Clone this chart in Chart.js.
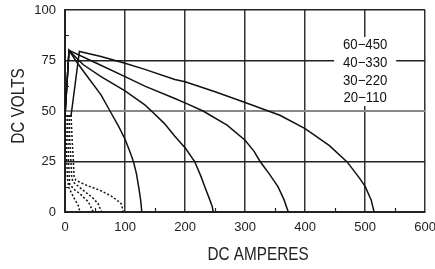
<!DOCTYPE html>
<html>
<head>
<meta charset="utf-8">
<script src="https://cdn.jsdelivr.net/npm/chart.js@4.4.0/dist/chart.umd.min.js"></script>
<style>
  html, body { margin:0; padding:0; background:#fff; overflow:hidden; }
  #wrap { position:relative; width:444px; height:269px; }
</style>
</head>
<body>
<div id="wrap"><canvas id="c"></canvas></div>
<script>
// DC volts vs DC amperes, four weld ranges (solid) + low-current curves (dotted)
const FONT = "'Liberation Sans', Arial, sans-serif";

const xTicks = [0, 100, 200, 300, 400, 500, 600];
const yTicks = [0, 25, 50, 75, 100];
const rangeLabels = ["60\u2212450", "40\u2212330", "30\u2212220", "20\u2212110"];

// solid curves
const c20x = [0, 6.7, 20, 40, 60, 75, 90, 100, 108, 114, 119, 123, 126, 128];
const c20y = [47.5, 80, 74, 66, 58, 50, 42, 36, 30, 25, 19, 12, 6, 0];

const c30x = [0, 6.7, 30, 60, 100, 133, 144, 165, 183, 201, 216, 226, 233, 240, 245, 247];
const c30y = [47.5, 80, 73, 67, 60, 53, 50, 44, 37.5, 31.4, 25, 18, 12.4, 7, 3, 0];

const c40x = [0, 6.7, 50, 100, 133, 183, 200, 230, 270, 300, 315, 325, 340, 355, 365, 372];
const c40y = [47.5, 80, 74, 67, 62.3, 56.2, 54, 50, 43, 35.5, 30, 25, 19, 12.4, 6, 0];

const c60x = [0, 10, 24, 60, 100, 133, 183, 200, 250, 300, 358, 400, 440, 470, 490, 500, 510, 515];
const c60y = [47.5, 47.5, 79.5, 77, 73.6, 70.6, 65.6, 64.5, 59.5, 54.2, 47.9, 41.3, 33, 24.8, 17, 12.7, 6, 0];

// dotted curves
const d1x = [1, 2, 3, 4, 6, 14, 22, 25];
const d1y = [48, 35, 25, 17, 12.4, 7.4, 3.3, 0];
const d2x = [4, 5, 6, 7, 8, 16, 25, 39, 47];
const d2y = [48, 35, 25, 18, 13.5, 11, 9, 5, 0];
const d3x = [7, 8, 10, 11, 13, 30, 45, 55, 61];
const d3y = [48, 35, 25, 18, 15, 10.8, 7.4, 4.2, 0];
const d4x = [10, 12, 14, 15, 18, 36, 58, 80, 94, 97];
const d4y = [48, 35, 25, 18, 15.7, 13.2, 10.8, 7.4, 4, 0];

function pts(xs, ys){ return xs.map((x,i)=>({x, y: ys[i]})); }

function solid(xs, ys){
  return { data: pts(xs, ys), borderColor:"#111", borderWidth:1.5, pointRadius:0, tension:0, fill:false };
}
function dotted(xs, ys){
  return { data: pts(xs, ys), borderColor:"#111", borderWidth:1.5, borderDash:[2,2], pointRadius:0, tension:0, fill:false };
}

// condensed-looking text: squeeze horizontally
function narrowText(ctx, text, x, y, sx){
  ctx.save();
  ctx.translate(x, y);
  ctx.scale(sx, 1);
  ctx.fillText(text, 0, 0);
  ctx.restore();
}

const extras = {
  id: "extras",
  beforeDatasetsDraw(chart){
    const {ctx, scales:{x}} = chart;
    // label box over grid
    const cx = x.getPixelForValue(500);
    ctx.save();
    ctx.fillStyle = "#fff";
    ctx.fillRect(cx - 31, 37, 62, 69);
    ctx.fillStyle = "#111";
    ctx.font = "14px " + FONT;
    ctx.textAlign = "center";
    ctx.textBaseline = "middle";
    rangeLabels.forEach((t,i)=> narrowText(ctx, t, cx, 45.5 + i*17.7, 0.94));
    ctx.restore();
  },
  afterDraw(chart){
    const {ctx, chartArea:a, scales:{x, y}} = chart;
    ctx.save();
    ctx.strokeStyle = "#222";
    ctx.lineWidth = 1.2;
    ctx.beginPath();
    for (let v = 50; v < 600; v += 100){
      const px = Math.round(x.getPixelForValue(v)) + 0.5;
      ctx.moveTo(px, a.bottom); ctx.lineTo(px, a.bottom - 4);
    }
    for (let v = 12.5; v < 100; v += 25){
      const py = Math.round(y.getPixelForValue(v)) + 0.5;
      ctx.moveTo(a.left, py); ctx.lineTo(a.left + 4, py);
    }
    ctx.stroke();
    // axis titles
    ctx.fillStyle = "#222";
    ctx.font = "18px " + FONT;
    ctx.textAlign = "center";
    ctx.textBaseline = "middle";
    narrowText(ctx, "DC AMPERES", 258, 255, 0.85);
    ctx.translate(19, 106);
    ctx.rotate(-Math.PI/2);
    narrowText(ctx, "DC VOLTS", 0, 0, 0.85);
    ctx.restore();
  }
};

new Chart(document.getElementById("c"), {
  type: "line",
  data: {
    datasets: [
      solid(c20x, c20y), solid(c30x, c30y), solid(c40x, c40y), solid(c60x, c60y),
      dotted(d1x, d1y), dotted(d2x, d2y), dotted(d3x, d3y), dotted(d4x, d4y),
    ]
  },
  options: {
    responsive: true,
    maintainAspectRatio: false,
    animation: false,
    layout: { padding: { top: 10, right: 0, left: 0, bottom: 0 } },
    plugins: { legend: { display:false }, tooltip: { enabled:false } },
    scales: {
      x: {
        type: "linear", min: 0, max: 600,
        afterBuildTicks: s => { s.ticks = xTicks.map(v=>({value:v})); },
        afterFit: s => { s.height = 57; },
        ticks: { color:"#222", font:{ family:FONT, size:13 }, padding:8, maxRotation:0 },
        grid: { color:"#333", lineWidth:1.5, drawTicks:false },
        border: { color:"#222", width:2 },
      },
      y: {
        type: "linear", min: 0, max: 100,
        afterBuildTicks: s => { s.ticks = yTicks.map(v=>({value:v})); },
        afterFit: s => { s.width = 65; s.paddingTop = 0; s.paddingBottom = 0; },
        ticks: { color:"#222", font:{ family:FONT, size:13 }, padding:9 },
        grid: {
          color: c => c.tick && c.tick.value === 50 ? "#888" : "#222",
          lineWidth: c => c.tick && c.tick.value === 50 ? 2 : 1.5,
          drawTicks:false
        },
        border: { color:"#222", width:2 },
      }
    }
  },
  plugins: [extras]
});
</script>
</body>
</html>
